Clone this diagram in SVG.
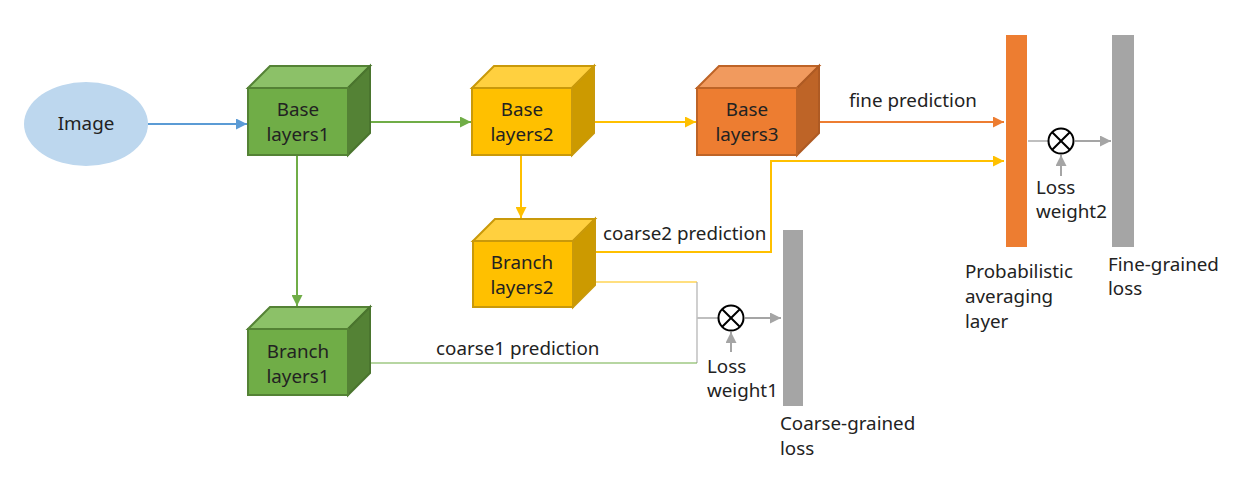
<svg xmlns="http://www.w3.org/2000/svg" width="1251" height="503" viewBox="0 0 1251 503">
<defs>
<style>
text{font-family:"Noto Sans","Open Sans","DejaVu Sans",sans-serif;font-size:18.8px;fill:#222}
.ctr{text-anchor:middle}
.gF{fill:#70AD47;stroke:#548235;stroke-width:2}
.gT{fill:#8CC168;stroke:#548235;stroke-width:2}
.gS{fill:#548235;stroke:#4A752E;stroke-width:2}
.yF{fill:#FFC000;stroke:#C9990A;stroke-width:2}
.yT{fill:#FFD03F;stroke:#C9990A;stroke-width:2}
.yS{fill:#CC9A00;stroke:#C9990A;stroke-width:2}
.oF{fill:#ED7D31;stroke:#BE6427;stroke-width:2}
.oT{fill:#F19A5E;stroke:#BE6427;stroke-width:2}
.oS{fill:#BE6427;stroke:#AE5A23;stroke-width:2}
.ln{fill:none;stroke-width:2}
</style>
<marker id="aB" viewBox="0 0 10 10" refX="10" refY="5" markerWidth="5.5" markerHeight="5.5" orient="auto" markerUnits="strokeWidth"><path d="M0,0L10,5L0,10z" fill="#5B9BD5"/></marker>
<marker id="aG" viewBox="0 0 10 10" refX="10" refY="5" markerWidth="5.5" markerHeight="5.5" orient="auto" markerUnits="strokeWidth"><path d="M0,0L10,5L0,10z" fill="#70AD47"/></marker>
<marker id="aY" viewBox="0 0 10 10" refX="10" refY="5" markerWidth="5.5" markerHeight="5.5" orient="auto" markerUnits="strokeWidth"><path d="M0,0L10,5L0,10z" fill="#FFC000"/></marker>
<marker id="aO" viewBox="0 0 10 10" refX="10" refY="5" markerWidth="5.5" markerHeight="5.5" orient="auto" markerUnits="strokeWidth"><path d="M0,0L10,5L0,10z" fill="#ED7D31"/></marker>
<marker id="aK" viewBox="0 0 10 10" refX="10" refY="5" markerWidth="5.5" markerHeight="5.5" orient="auto" markerUnits="strokeWidth"><path d="M0,0L10,5L0,10z" fill="#A5A5A5"/></marker>
</defs>
<rect width="1251" height="503" fill="#fff"/>

<g id="connectors">
<line class="ln" x1="148" y1="124" x2="247" y2="124" stroke="#5B9BD5" marker-end="url(#aB)"/>
<line class="ln" x1="371" y1="122" x2="471" y2="122" stroke="#70AD47" marker-end="url(#aG)"/>
<line class="ln" x1="297" y1="156" x2="297" y2="306" stroke="#70AD47" marker-end="url(#aG)"/>
<line class="ln" x1="595" y1="122" x2="696" y2="122" stroke="#FFC000" marker-end="url(#aY)"/>
<line class="ln" x1="521" y1="156" x2="521" y2="218" stroke="#FFC000" marker-end="url(#aY)"/>
<line class="ln" x1="819" y1="122" x2="1004" y2="122" stroke="#ED7D31" marker-end="url(#aO)"/>
<polyline class="ln" points="595,252 771,252 771,161 1004,161" stroke="#FFC000" marker-end="url(#aY)"/>
<polyline fill="none" stroke-width="1.2" points="595,282 697,282" stroke="#FFC000"/>
<polyline fill="none" stroke-width="1.2" points="697,282 697,363" stroke="#B0B0B0"/>
<polyline fill="none" stroke-width="1.2" points="370,363 697,363" stroke="#70AD47"/>
<line class="ln" x1="697" y1="318" x2="718" y2="318" stroke="#BFBFBF"/>
<line class="ln" x1="745" y1="318" x2="781" y2="318" stroke="#A5A5A5" marker-end="url(#aK)"/>
<line class="ln" x1="731" y1="352" x2="731" y2="332" stroke="#A5A5A5" marker-end="url(#aK)"/>
<line class="ln" x1="1028" y1="141" x2="1048" y2="141" stroke="#BFBFBF"/>
<line class="ln" x1="1075" y1="141" x2="1111" y2="141" stroke="#A5A5A5" marker-end="url(#aK)"/>
<line class="ln" x1="1061" y1="176" x2="1061" y2="155" stroke="#A5A5A5" marker-end="url(#aK)"/>
</g>

<g id="image">
<ellipse cx="86" cy="124" rx="62" ry="42" fill="#BDD7EE"/>
<text class="ctr" x="86" y="130">Image</text>
</g>

<g id="base1">
<polygon class="gT" points="248,88 270,66 370,66 348,88"/>
<polygon class="gS" points="348,88 370,66 370,133 348,155"/>
<rect class="gF" x="248" y="88" width="100" height="67"/>
<text class="ctr" x="298" y="116">Base</text>
<text class="ctr" x="298" y="141">layers1</text>
</g>

<g id="base2">
<polygon class="yT" points="472,88 494,66 594,66 572,88"/>
<polygon class="yS" points="572,88 594,66 594,133 572,155"/>
<rect class="yF" x="472" y="88" width="100" height="67"/>
<text class="ctr" x="522" y="116">Base</text>
<text class="ctr" x="522" y="141">layers2</text>
</g>

<g id="base3">
<polygon class="oT" points="697,88 719,66 819,66 797,88"/>
<polygon class="oS" points="797,88 819,66 819,133 797,155"/>
<rect class="oF" x="697" y="88" width="100" height="67"/>
<text class="ctr" x="747" y="116">Base</text>
<text class="ctr" x="747" y="141">layers3</text>
</g>

<g id="branch2">
<polygon class="yT" points="473,241 495,219 595,219 573,241"/>
<polygon class="yS" points="573,241 595,219 595,285 573,307"/>
<rect class="yF" x="473" y="241" width="100" height="66"/>
<text class="ctr" x="522" y="269">Branch</text>
<text class="ctr" x="522" y="294">layers2</text>
</g>

<g id="branch1">
<polygon class="gT" points="248,329 270,307 370,307 348,329"/>
<polygon class="gS" points="348,329 370,307 370,373 348,395"/>
<rect class="gF" x="248" y="329" width="100" height="66"/>
<text class="ctr" x="298" y="358">Branch</text>
<text class="ctr" x="298" y="383">layers1</text>
</g>

<g id="labels">
<text x="849" y="107">fine prediction</text>
<text x="603" y="240">coarse2 prediction</text>
<text x="436" y="355">coarse1 prediction</text>
</g>

<g id="mult1">
<circle cx="731" cy="318" r="12.5" fill="#fff" stroke="#000" stroke-width="2"/>
<path d="M722.2,309.2L739.8,326.8M739.8,309.2L722.2,326.8" stroke="#000" stroke-width="2"/>
<text x="707" y="373">Loss</text>
<text x="707" y="397">weight1</text>
</g>

<g id="coarseLoss">
<rect x="783" y="230" width="20" height="176" fill="#A5A5A5"/>
<text x="780" y="430">Coarse-grained</text>
<text x="780" y="455">loss</text>
</g>

<g id="avgLayer">
<rect x="1006" y="35" width="21" height="212" fill="#ED7D31"/>
<text x="965" y="278">Probabilistic</text>
<text x="965" y="303">averaging</text>
<text x="965" y="328">layer</text>
</g>

<g id="mult2">
<circle cx="1061" cy="141" r="12.5" fill="#fff" stroke="#000" stroke-width="2"/>
<path d="M1052.2,132.2L1069.8,149.8M1069.8,132.2L1052.2,149.8" stroke="#000" stroke-width="2"/>
<text x="1036" y="194">Loss</text>
<text x="1036" y="218">weight2</text>
</g>

<g id="fineLoss">
<rect x="1112" y="35" width="22" height="212" fill="#A5A5A5"/>
<text x="1108" y="271">Fine-grained</text>
<text x="1108" y="295">loss</text>
</g>
</svg>
